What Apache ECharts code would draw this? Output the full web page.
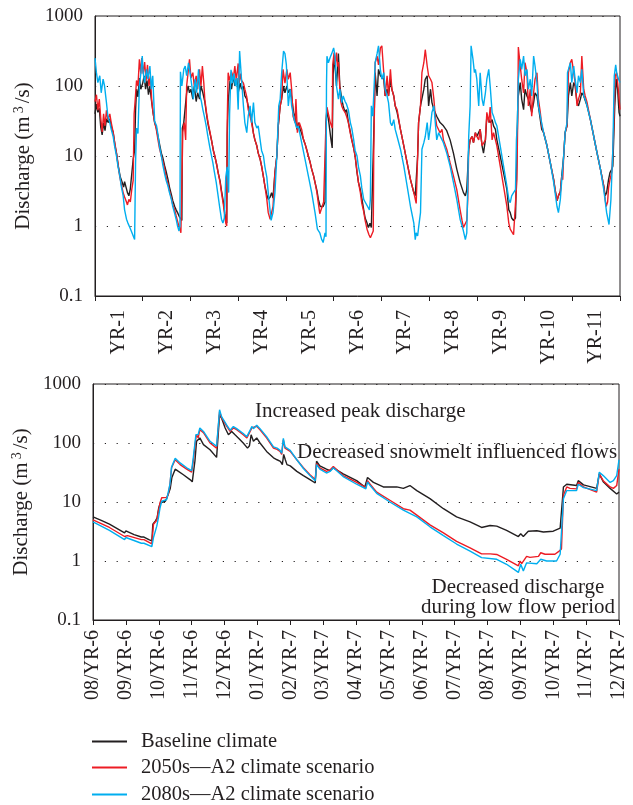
<!DOCTYPE html>
<html>
<head>
<meta charset="utf-8">
<script src="https://cdn.jsdelivr.net/npm/echarts@6/dist/echarts.min.js"></script>
<style>
  html, body { margin: 0; padding: 0; background: #fff; }
  #chart { width: 633px; height: 805px; }
</style>
</head>
<body>
<div id="chart"></div>
<script>
// tick labels
const yearLabels = ['YR-1', 'YR-2', 'YR-3', 'YR-4', 'YR-5', 'YR-6', 'YR-7', 'YR-8', 'YR-9', 'YR-10', 'YR-11'];
const monthLabels = ['08/YR-6', '09/YR-6', '10/YR-6', '11/YR-6', '12/YR-6', '01/YR-7', '02/YR-7', '03/YR-7',
  '04/YR-7', '05/YR-7', '06/YR-7', '07/YR-7', '08/YR-7', '09/YR-7', '10/YR-7', '11/YR-7', '12/YR-7'];
const seriesNames = ['Baseline climate', '2050s\u2014A2 climate scenario', '2080s\u2014A2 climate scenario'];

// top panel: [years from start, discharge m3/s]
const topBaseline = [
  [0.00,40],[0.03,55],[0.06,42],[0.09,48],[0.12,26],[0.15,20],[0.18,30],[0.21,23],[0.24,34],[0.28,30],[0.31,34],[0.35,25],[0.38,22],[0.42,14],[0.45,11],[0.49,7],[0.53,5],[0.57,4.2],[0.60,3.6],[0.62,4.3],[0.65,3.6],[0.68,3.0],[0.71,2.7],[0.74,3.4],[0.77,3.5],[0.80,9],[0.83,12],[0.85,45],[0.87,90],[0.90,70],[0.93,130],[0.96,90],
  [1.00,110],[1.03,140],[1.06,90],[1.09,120],[1.12,75],[1.15,100],[1.18,65],[1.21,45],[1.25,30],[1.28,26],[1.32,19],[1.35,15],[1.39,11],[1.42,9.5],[1.46,7.2],[1.49,6],[1.53,4.6],[1.56,3.6],[1.60,2.8],[1.63,2.3],[1.67,1.9],[1.70,1.7],[1.74,1.5],[1.77,1.35],[1.80,1.3],[1.82,1.2],[1.83,25],[1.86,30],[1.89,30],[1.92,80],[1.95,100],[1.98,80],
  [2.01,90],[2.05,65],[2.08,100],[2.12,60],[2.15,80],[2.19,65],[2.22,100],[2.26,80],[2.30,60],[2.34,38],[2.37,28],[2.41,21],[2.44,17],[2.48,12],[2.51,10],[2.55,7.5],[2.58,5.8],[2.62,4.4],[2.65,3.2],[2.69,2.2],[2.72,1.5],[2.74,1.2],[2.76,1.1],[2.77,20],[2.79,60],[2.83,120],[2.86,90],[2.90,140],[2.93,100],[2.97,130],
  [3.00,80],[3.04,110],[3.07,90],[3.11,100],[3.14,72],[3.18,65],[3.21,52],[3.25,42],[3.28,33],[3.32,21],[3.35,17],[3.39,14],[3.42,11],[3.46,9],[3.49,7.2],[3.53,5],[3.56,3.7],[3.60,2.8],[3.63,2.4],[3.67,2.6],[3.70,3.0],[3.73,2.5],[3.77,5.8],[3.81,10],[3.84,27],[3.88,52],[3.91,65],[3.95,100],[3.98,80],
  [4.02,100],[4.05,80],[4.09,90],[4.12,70],[4.16,42],[4.19,37],[4.23,24],[4.26,30],[4.30,24],[4.33,21],[4.37,17],[4.40,15],[4.44,12],[4.47,10],[4.51,8],[4.54,6.5],[4.58,5.2],[4.61,4.2],[4.65,3.2],[4.68,2.4],[4.72,1.9],[4.75,1.8],[4.78,1.9],[4.82,2.2],[4.84,30],[4.86,46],[4.90,30],[4.94,18],[4.97,13],
  [4.99,150],[5.01,250],[5.03,190],[5.06,100],[5.10,290],[5.13,100],[5.17,65],[5.20,52],[5.24,42],[5.27,46],[5.31,30],[5.35,22],[5.38,17],[5.42,13],[5.45,10],[5.49,5.8],[5.52,4.2],[5.56,3.3],[5.59,2.5],[5.63,1.7],[5.66,1.3],[5.70,1.1],[5.73,0.95],[5.76,1.1],[5.79,0.95],[5.82,1.0],[5.84,20],[5.87,155],[5.91,72],[5.94,173],[5.98,140],
  [6.05,125],[6.08,72],[6.12,90],[6.15,72],[6.19,125],[6.22,90],[6.26,72],[6.29,52],[6.33,42],[6.40,24],[6.47,14],[6.54,8],[6.61,4.6],[6.68,3.0],[6.71,2.7],[6.73,2.6],[6.76,10],[6.78,30],[6.82,52],[6.89,90],[6.92,125],[6.96,140],
  [6.99,52],[7.03,90],[7.06,58],[7.10,46],[7.16,37],[7.23,30],[7.30,27],[7.37,23],[7.44,17],[7.51,11],[7.58,6.5],[7.65,4.2],[7.72,3.0],[7.76,2.7],[7.79,3.3],[7.83,12.5],[7.86,17],[7.90,19],[7.93,15.5],[7.97,21.5],
  [8.00,19],[8.07,24],[8.11,14],[8.14,11],[8.18,17],[8.21,37],[8.25,33],[8.28,30],[8.32,33],[8.35,27],[8.39,24],[8.42,17],[8.49,10],[8.56,5.8],[8.63,3.3],[8.67,1.7],[8.70,1.55],[8.73,1.3],[8.77,1.2],[8.81,1.3],[8.84,10],[8.86,65],[8.91,112],[8.94,65],[8.98,46],
  [9.01,90],[9.05,72],[9.08,65],[9.12,52],[9.15,42],[9.19,58],[9.22,80],[9.26,72],[9.33,33],[9.36,24],[9.40,21.5],[9.47,14],[9.54,8],[9.61,4.6],[9.64,3.3],[9.68,2.3],[9.71,2.7],[9.75,3.1],[9.78,5.2],[9.82,10],[9.85,21.5],[9.89,27],[9.92,72],[9.96,112],[9.99,72],
  [10.03,112],[10.06,100],[10.10,58],[10.13,52],[10.17,65],[10.20,80],[10.24,72],[10.31,52],[10.38,33],[10.45,19],[10.52,11],[10.59,6.5],[10.66,3.7],[10.69,2.7],[10.72,3.0],[10.76,4.6],[10.79,5.8],[10.83,6.5],[10.85,7.2],[10.89,52],[10.92,125],[10.95,90],[10.98,42],[11.00,37]
];
const top2050s = [
  [0.00,60],[0.03,75],[0.06,45],[0.09,65],[0.12,35],[0.15,22],[0.18,40],[0.21,27],[0.24,45],[0.27,33],[0.31,40],[0.34,30],[0.38,22],[0.41,16],[0.45,11],[0.49,7],[0.52,5],[0.56,3.7],[0.59,3.0],[0.62,2.6],[0.65,2.3],[0.68,2.0],[0.71,2.4],[0.74,2.2],[0.77,3.3],[0.80,4.5],[0.82,40],[0.84,60],[0.87,120],[0.90,100],[0.93,240],[0.96,150],[0.98,250],
  [1.01,150],[1.04,220],[1.07,120],[1.10,200],[1.13,100],[1.16,140],[1.19,60],[1.22,40],[1.25,30],[1.28,25],[1.32,17],[1.35,13],[1.39,10],[1.42,8.5],[1.46,6.5],[1.49,5],[1.53,4],[1.56,3.2],[1.60,2.5],[1.63,2.0],[1.67,1.7],[1.70,1.4],[1.74,1.1],[1.77,0.95],[1.80,0.8],[1.83,0.75],[1.84,22],[1.87,30],[1.90,17],[1.92,100],[1.95,155],[1.98,240],
  [2.01,130],[2.05,155],[2.08,100],[2.12,140],[2.15,90],[2.19,173],[2.22,100],[2.25,193],[2.28,110],[2.30,65],[2.34,40],[2.37,30],[2.41,22],[2.44,17],[2.48,12],[2.51,10],[2.55,7.5],[2.58,5.8],[2.62,4.2],[2.65,3],[2.69,2.0],[2.72,1.4],[2.74,1.1],[2.76,1.0],[2.77,30],[2.79,155],[2.82,120],[2.86,160],[2.90,130],[2.93,193],[2.96,120],
  [3.00,210],[3.02,110],[3.05,150],[3.07,120],[3.11,110],[3.14,90],[3.18,70],[3.21,46],[3.25,37],[3.28,30],[3.32,21],[3.35,17],[3.39,14],[3.42,11],[3.46,9],[3.49,7.2],[3.53,5],[3.56,3.7],[3.60,2.4],[3.63,1.55],[3.67,1.25],[3.70,1.55],[3.73,1.9],[3.77,5.8],[3.81,10],[3.84,27],[3.88,52],[3.91,65],[3.94,173],[3.98,110],
  [4.02,173],[4.05,125],[4.09,155],[4.12,90],[4.15,37],[4.19,30],[4.21,65],[4.24,21.5],[4.28,30],[4.33,24],[4.37,17],[4.40,15],[4.44,12],[4.47,10],[4.51,8],[4.54,6.5],[4.58,5.2],[4.61,4.2],[4.65,3.0],[4.68,2.1],[4.71,1.5],[4.75,1.6],[4.79,2.2],[4.82,2.2],[4.84,30],[4.86,50],[4.89,40],[4.93,30],[4.97,25],
  [4.98,200],[5.01,300],[5.03,200],[5.06,300],[5.08,190],[5.10,220],[5.13,90],[5.15,60],[5.17,52],[5.20,46],[5.24,42],[5.27,37],[5.31,30],[5.35,21],[5.38,17],[5.42,13],[5.45,10],[5.49,6],[5.52,4.2],[5.56,3],[5.59,2.1],[5.63,1.6],[5.66,1.2],[5.70,0.9],[5.74,0.75],[5.77,0.68],[5.80,0.72],[5.83,0.85],[5.84,10],[5.87,215],[5.91,267],[5.94,200],[5.98,350],
  [6.01,375],[6.05,155],[6.08,72],[6.12,140],[6.15,72],[6.19,173],[6.22,90],[6.26,72],[6.29,52],[6.33,46],[6.40,24],[6.47,14],[6.54,8],[6.61,4.6],[6.68,3.0],[6.73,2.1],[6.76,10],[6.78,30],[6.82,52],[6.85,155],[6.89,215],[6.92,330],[6.96,193],
  [6.99,140],[7.03,125],[7.06,112],[7.10,65],[7.13,37],[7.16,27],[7.23,21.5],[7.27,24],[7.30,17],[7.37,12.5],[7.44,8],[7.51,5.2],[7.58,3.3],[7.65,1.7],[7.69,1.2],[7.72,0.95],[7.76,0.9],[7.79,1.2],[7.81,2.4],[7.83,12.5],[7.86,17],[7.90,19],[7.93,15.5],[7.97,21.5],
  [8.00,19],[8.04,17],[8.07,24],[8.11,14],[8.18,17],[8.21,42],[8.25,30],[8.28,50],[8.32,17],[8.35,21.5],[8.39,17],[8.42,14],[8.49,7.2],[8.56,3.7],[8.63,1.9],[8.67,1.1],[8.70,0.9],[8.73,0.95],[8.77,0.75],[8.81,0.8],[8.84,4.6],[8.86,50],[8.87,360],[8.91,193],[8.94,125],[8.98,80],
  [9.01,215],[9.05,155],[9.08,52],[9.12,90],[9.15,37],[9.19,80],[9.22,125],[9.26,155],[9.29,65],[9.33,42],[9.36,27],[9.40,21.5],[9.47,14],[9.54,8],[9.61,4.6],[9.64,3.3],[9.68,2.3],[9.71,2.7],[9.75,3.1],[9.78,5.2],[9.80,4.6],[9.82,10],[9.85,21.5],[9.89,27],[9.92,155],[9.96,215],[9.99,240],
  [10.03,155],[10.06,112],[10.10,52],[10.13,65],[10.17,80],[10.20,267],[10.24,90],[10.27,72],[10.31,58],[10.38,33],[10.45,19],[10.52,11],[10.59,6.5],[10.66,3.7],[10.69,2.4],[10.71,1.9],[10.74,2.2],[10.76,3.5],[10.79,4.6],[10.83,6],[10.86,17],[10.90,140],[10.93,155],[10.97,80],[11.00,46]
];
const top2080s = [
  [0.00,250],[0.03,155],[0.06,112],[0.10,140],[0.13,80],[0.17,125],[0.20,100],[0.24,58],[0.27,37],[0.31,30],[0.34,24],[0.38,19],[0.41,14],[0.45,10],[0.48,7.2],[0.52,5.2],[0.55,3.7],[0.59,2.7],[0.62,1.7],[0.66,1.25],[0.69,1.1],[0.73,0.95],[0.76,0.85],[0.80,0.8],[0.83,0.64],[0.85,8],[0.87,25],[0.90,21],[0.93,100],[0.96,150],[0.99,267],
  [1.01,155],[1.04,112],[1.08,173],[1.11,125],[1.15,193],[1.18,90],[1.21,140],[1.25,31],[1.29,27],[1.32,20],[1.35,14],[1.39,10],[1.42,7.5],[1.46,5.5],[1.49,4.5],[1.53,3.7],[1.56,3.0],[1.60,2.4],[1.63,1.9],[1.67,1.5],[1.70,1.25],[1.73,1.0],[1.76,0.85],[1.78,1.0],[1.79,160],[1.82,100],[1.86,173],[1.89,193],[1.92,140],[1.96,215],[1.99,155],
  [2.03,100],[2.06,65],[2.10,125],[2.13,80],[2.17,173],[2.20,72],[2.23,60],[2.26,46],[2.29,37],[2.33,27],[2.36,20],[2.40,14],[2.43,11],[2.47,8],[2.50,6],[2.54,4.2],[2.57,3.0],[2.61,1.9],[2.65,1.25],[2.68,1.1],[2.71,1.3],[2.74,5],[2.77,7],[2.80,3],[2.82,40],[2.85,170],[2.88,110],[2.91,150],[2.94,100],[2.97,130],
  [3.00,46],[3.03,316],[3.07,125],[3.11,52],[3.14,30],[3.18,21.5],[3.21,37],[3.25,52],[3.28,30],[3.32,58],[3.35,30],[3.39,25],[3.42,27],[3.46,17],[3.49,12],[3.53,10],[3.56,7],[3.60,5],[3.63,3],[3.66,1.9],[3.69,1.2],[3.73,1.55],[3.77,3],[3.81,10],[3.85,52],[3.88,65],[3.91,150],[3.95,316],[3.98,290],
  [4.01,200],[4.05,52],[4.09,90],[4.12,52],[4.16,37],[4.19,30],[4.23,25],[4.26,27],[4.33,15.5],[4.40,9],[4.47,5.2],[4.54,3.0],[4.61,1.55],[4.66,0.9],[4.71,0.8],[4.75,0.64],[4.78,0.58],[4.82,0.8],[4.84,0.7],[4.85,100],[4.86,267],[4.89,215],[4.93,260],[4.96,290],
  [5.00,350],[5.03,267],[5.06,100],[5.10,65],[5.13,90],[5.17,58],[5.20,72],[5.24,60],[5.27,55],[5.31,45],[5.35,30],[5.38,25],[5.42,17],[5.45,12],[5.49,10],[5.52,7],[5.56,5.2],[5.59,3.5],[5.63,2.4],[5.66,2.2],[5.70,2.2],[5.75,1.7],[5.77,2.4],[5.79,52],[5.82,37],[5.87,215],[5.91,290],[5.94,375],[5.98,170],
  [6.01,125],[6.05,155],[6.08,90],[6.12,72],[6.15,58],[6.19,30],[6.22,27],[6.26,33],[6.29,24],[6.33,19],[6.40,12.5],[6.47,7.2],[6.54,3.7],[6.61,1.9],[6.68,1.1],[6.71,0.64],[6.73,0.8],[6.76,0.72],[6.78,0.95],[6.82,1.55],[6.85,12.5],[6.89,15.5],[6.92,19],[6.96,30],[6.99,17],
  [7.03,27],[7.06,42],[7.10,52],[7.13,30],[7.16,17],[7.20,21.5],[7.23,21.5],[7.30,15.5],[7.37,11],[7.44,7.2],[7.51,4.2],[7.58,2.4],[7.65,1.25],[7.71,0.9],[7.76,0.64],[7.79,0.8],[7.83,19],[7.86,52],[7.88,375],[7.92,240],[7.95,155],[7.97,173],
  [8.00,125],[8.04,52],[8.07,155],[8.11,65],[8.14,52],[8.18,80],[8.21,125],[8.25,173],[8.28,100],[8.32,42],[8.35,37],[8.39,30],[8.42,27],[8.49,14],[8.56,7.2],[8.63,3.7],[8.67,2.4],[8.70,2.15],[8.73,2.7],[8.77,3.0],[8.81,3.3],[8.83,17],[8.85,30],[8.87,125],[8.91,240],[8.94,173],[8.98,267],
  [9.01,140],[9.05,173],[9.08,90],[9.12,125],[9.15,72],[9.19,267],[9.22,193],[9.26,112],[9.29,52],[9.33,37],[9.40,21.5],[9.47,14],[9.54,8],[9.61,4.2],[9.68,1.9],[9.71,1.55],[9.75,2.4],[9.78,4.6],[9.82,10],[9.85,21.5],[9.89,30],[9.90,155],[9.92,173],[9.96,215],[9.99,112],
  [10.03,193],[10.06,125],[10.10,80],[10.13,140],[10.17,112],[10.20,173],[10.24,72],[10.27,65],[10.31,52],[10.38,33],[10.45,19],[10.52,11],[10.59,6.5],[10.66,3.3],[10.72,1.55],[10.77,1.05],[10.81,2.4],[10.85,12.5],[10.88,140],[10.91,200],[10.93,155],[10.97,125],[11.00,112]
];

// bottom panel: [months from 08/YR-6, discharge m3/s]
const bottomBaseline = [
  [0,5.6],[0.25,4.9],[0.5,4.2],[0.75,3.5],[0.96,3.0],[1.0,3.25],[1.05,3.1],[1.25,2.8],[1.47,2.55],[1.5,2.7],[1.55,2.55],[1.7,2.3],[1.79,2.2],[1.82,4.2],[1.9,4.8],[1.95,5.4],[2.0,8],[2.05,9.7],[2.1,10.3],[2.2,10.3],[2.25,11.8],[2.35,17],[2.4,26],[2.5,36],[2.6,33],[2.75,29],[2.95,24],[3.02,22],[3.06,33],[3.1,49],[3.15,107],[3.2,100],[3.25,122],[3.36,94],[3.56,77],[3.76,57],[3.82,54],[3.85,300],[3.91,265],[4.02,180],[4.12,138],[4.22,157],[4.32,138],[4.42,122],[4.57,100],[4.7,82],[4.76,90],[4.81,138],[4.88,107],[4.98,122],[5.08,100],[5.28,72],[5.49,56],[5.6,52],[5.7,49],[5.76,43],[5.8,64],[5.85,52],[5.9,43],[6.0,41],[6.2,33],[6.4,28],[6.6,24],[6.76,21],[6.8,49],[6.9,41],[7.1,36],
  [7.21,34],[7.31,38],[7.61,30],[8.02,23],[8.27,18],[8.35,26],[8.53,21.5],[8.83,18],[9.03,18],[9.24,18],[9.44,17],[9.64,19],[9.85,15.6],[10.25,11.4],[10.66,7.7],[11.06,5.6],[11.47,4.6],[11.82,3.7],[12.08,4.0],[12.28,3.9],[12.58,3.3],[12.94,2.6],[13.01,2.9],[13.09,2.6],[13.24,3.2],[13.5,3.25],[13.7,3.1],[14.0,3.2],[14.21,3.6],[14.31,18],[14.41,20],[14.71,19],[14.76,23],[14.92,19.5],[15.32,17],[15.37,16.5],[15.40,30],[15.52,22],[15.73,17],[15.93,13.7],[16.0,14.7]
];
const bottom2050s = [
  [0,5.0],[0.5,3.7],[0.96,2.6],[1.0,2.8],[1.05,2.7],[1.47,2.3],[1.5,2.45],[1.55,2.3],[1.79,1.95],[1.84,4.2],[1.94,4.9],[1.99,7],[2.04,9.7],[2.09,11.8],[2.24,12],[2.29,13.4],[2.34,19.8],[2.39,38],[2.5,52],[2.65,43],[2.85,36],[3.0,32],[3.05,49],[3.13,122],[3.15,138],[3.2,122],[3.25,168],[3.36,150],[3.56,100],[3.76,82],[3.82,78],[3.85,340],[3.91,270],[4.07,192],[4.17,157],[4.27,180],[4.37,168],[4.57,138],[4.68,122],[4.78,157],[4.83,180],[4.88,168],[4.98,192],[5.08,168],[5.28,122],[5.49,82],[5.6,78],[5.69,72],[5.74,64],[5.79,113],[5.84,82],[6.0,72],[6.2,52],[6.4,38],[6.6,29],[6.76,24],[6.8,45],[6.9,38],[7.1,33],
  [7.21,35],[7.31,40],[7.61,28],[8.02,21.5],[8.3,17.5],[8.35,23],[8.43,20],[8.63,14.7],[9.03,10.7],[9.44,7.7],[9.64,7.3],[9.85,6.0],[10.25,4.1],[10.66,3.0],[11.06,2.15],[11.47,1.67],[11.82,1.32],[12.08,1.32],[12.28,1.29],[12.58,1.07],[12.94,0.83],[12.99,1.0],[13.04,0.9],[13.19,1.2],[13.29,1.15],[13.55,1.2],[13.62,1.38],[13.75,1.3],[14.05,1.3],[14.18,1.47],[14.25,1.6],[14.31,13],[14.41,18],[14.51,17],[14.71,16.7],[14.76,21.5],[14.92,18],[15.32,14.7],[15.37,14.5],[15.40,30],[15.52,23],[15.73,18],[15.83,17],[15.93,19],[16.0,36]
];
const bottom2080s = [
  [0,4.6],[0.5,3.3],[0.96,2.3],[1.0,2.5],[1.05,2.4],[1.47,2.0],[1.5,2.15],[1.55,2.0],[1.79,1.75],[1.84,2.5],[1.94,3.9],[1.99,5.4],[2.04,8],[2.09,10.3],[2.24,11],[2.34,19.8],[2.39,39],[2.5,55],[2.65,46],[2.85,38],[3.0,34],[3.05,56],[3.13,138],[3.15,148],[3.2,140],[3.25,180],[3.36,157],[3.56,107],[3.76,88],[3.82,82],[3.85,366],[3.91,280],[4.07,200],[4.17,165],[4.27,190],[4.37,175],[4.57,145],[4.68,128],[4.78,165],[4.83,190],[4.88,175],[4.98,200],[5.08,175],[5.28,128],[5.49,86],[5.6,82],[5.69,75],[5.74,67],[5.79,120],[5.84,86],[6.0,75],[6.2,52],[6.4,37],[6.6,28],[6.76,23],[6.8,43],[6.9,36],[7.1,31],
  [7.21,33],[7.31,38],[7.61,27],[8.02,20],[8.3,16.7],[8.35,22],[8.43,19],[8.63,14],[9.03,10],[9.44,7.3],[9.85,5.6],[10.25,3.8],[10.66,2.7],[11.06,1.94],[11.47,1.47],[11.82,1.14],[12.28,1.07],[12.58,0.88],[12.94,0.64],[13.01,0.88],[13.09,0.68],[13.19,0.93],[13.5,0.9],[13.62,1.07],[13.8,1.0],[14.1,1.0],[14.21,1.3],[14.31,11.4],[14.41,15.6],[14.71,15.6],[14.76,20],[14.92,17.5],[15.32,15.6],[15.37,15],[15.40,32],[15.52,28],[15.73,21.5],[15.83,23],[15.93,28],[16.0,52]
];

const ink = '#231f20';
const colors = [ink, '#ed1c24', '#00aeef'];
const serif = '"Liberation Serif", "DejaVu Serif", serif';

function dischargeAxis(gridIndex, nameGap) {
  return {
    type: 'log', logBase: 10, min: 0.1, max: 1000, gridIndex: gridIndex,
    axisLine: { show: true, lineStyle: { color: ink, width: 1 } },
    axisTick: { show: false },
    axisLabel: {
      color: ink, fontFamily: serif, fontSize: 19, margin: 12,
      formatter: v => String(+v.toPrecision(2))
    },
    splitLine: { show: true, lineStyle: { color: ink, width: 1, type: [1.2, 10.6] } },
    name: 'Discharge (m{sup|3}/s)', nameLocation: 'middle', nameGap: nameGap, nameRotate: 90,
    nameTextStyle: {
      color: ink, fontFamily: serif, fontSize: 21,
      rich: { sup: { fontFamily: serif, fontSize: 14, color: ink, verticalAlign: 'top', padding: [0, 3, 9, 3] } }
    }
  };
}

function line(name, data, xi, yi, color) {
  return {
    name: name, type: 'line', xAxisIndex: xi, yAxisIndex: yi, data: data,
    showSymbol: false, symbol: 'none', itemStyle: { color: color },
    lineStyle: { color: color, width: 1.4 }, emphasis: { disabled: true }
  };
}

// one legend per row so the column never wraps
function legendRow(i, top) {
  return {
    data: [seriesNames[i]], orient: 'vertical', left: 92, top: top, padding: 0,
    itemWidth: 35, itemHeight: 2, icon: 'rect', selectedMode: false,
    textStyle: { color: ink, fontFamily: serif, fontSize: 20.5, lineHeight: 20, padding: [0, 0, 0, 9] }
  };
}

const chart = echarts.init(document.getElementById('chart'));
chart.setOption({
  animation: false,
  backgroundColor: '#fff',
  grid: [
    { left: 95, top: 16, width: 525, height: 280, show: true, borderColor: ink, borderWidth: 1 },
    { left: 93, top: 384, width: 526, height: 236, show: true, borderColor: ink, borderWidth: 1 }
  ],
  xAxis: [
    {
      type: 'value', gridIndex: 0, min: 0, max: 11, interval: 1,
      axisLine: { onZero: false, lineStyle: { color: ink } },
      axisTick: { show: true, length: 5, lineStyle: { color: ink } },
      axisLabel: { show: false }, splitLine: { show: false }
    },
    {
      type: 'category', gridIndex: 0, data: yearLabels, boundaryGap: true, position: 'bottom',
      axisLine: { show: false }, axisTick: { show: false },
      axisLabel: { interval: 0, rotate: 90, color: ink, fontFamily: serif, fontSize: 20, margin: 14 }
    },
    {
      type: 'value', gridIndex: 1, min: 0, max: 16, interval: 1,
      axisLine: { onZero: false, lineStyle: { color: ink } },
      axisTick: { show: true, length: 5, lineStyle: { color: ink } },
      axisLabel: {
        rotate: 90, color: ink, fontFamily: serif, fontSize: 20, margin: 10,
        showMinLabel: true, showMaxLabel: true, formatter: v => monthLabels[v]
      },
      splitLine: { show: false }
    }
  ],
  yAxis: [dischargeAxis(0, 54), dischargeAxis(1, 52)],
  legend: [legendRow(0, 731), legendRow(1, 757), legendRow(2, 784)],
  graphic: [
    { type: 'text', x: 255, y: 411, style: { text: 'Increased peak discharge', fill: ink, font: '21px ' + serif, align: 'left', verticalAlign: 'middle' } },
    { type: 'text', x: 297, y: 452, style: { text: 'Decreased snowmelt influenced flows', fill: ink, font: '21px ' + serif, align: 'left', verticalAlign: 'middle' } },
    { type: 'text', x: 518, y: 587, style: { text: 'Decreased discharge', fill: ink, font: '21px ' + serif, align: 'center', verticalAlign: 'middle' } },
    { type: 'text', x: 518, y: 607, style: { text: 'during low flow period', fill: ink, font: '21px ' + serif, align: 'center', verticalAlign: 'middle' } }
  ],
  series: [
    line(seriesNames[0], topBaseline, 0, 0, colors[0]),
    line(seriesNames[1], top2050s, 0, 0, colors[1]),
    line(seriesNames[2], top2080s, 0, 0, colors[2]),
    line(seriesNames[0], bottomBaseline, 2, 1, colors[0]),
    line(seriesNames[1], bottom2050s, 2, 1, colors[1]),
    line(seriesNames[2], bottom2080s, 2, 1, colors[2])
  ]
});
</script>
</body>
</html>
